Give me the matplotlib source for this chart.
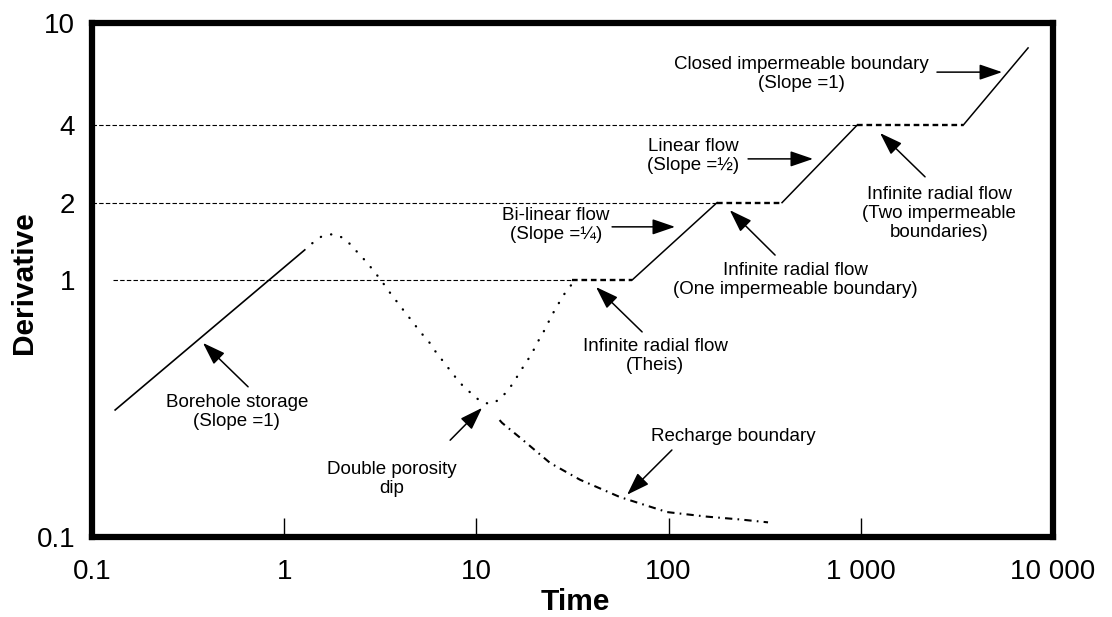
# Type curves for pumping-test derivative analysis (log-log sketch)
import matplotlib.pyplot as plt
from matplotlib.ticker import FixedLocator, NullLocator

plt.rcParams['font.family'] = ['Liberation Sans', 'DejaVu Sans']

# borehole storage (solid)
bh_time = [0.132, 1.28]
bh_deriv = [0.312, 1.31]

# double porosity curve (dotted) - hump, dip and rise to the Theis plateau
dp_time = [1.40, 1.57, 1.80, 2.02, 2.25, 2.45, 2.70, 2.93, 3.19, 3.43, 3.73, 4.05,
           4.41, 4.79, 5.21, 5.67, 6.09, 6.62, 7.20, 7.83, 8.51, 9.48, 10.6, 11.9,
           13.3, 14.6, 15.7, 16.7, 18.1, 19.5, 20.7, 22.2, 23.6, 25.1, 26.9, 28.9, 31.4]
dp_deriv = [1.39, 1.48, 1.51, 1.46, 1.36, 1.26, 1.17, 1.08, 1.00, 0.923, 0.851, 0.785,
            0.724, 0.668, 0.617, 0.574, 0.530, 0.489, 0.451, 0.416, 0.387, 0.360, 0.335, 0.329,
            0.344, 0.373, 0.401, 0.435, 0.476, 0.520, 0.569, 0.622, 0.681, 0.745, 0.815, 0.890, 0.964]

# recharge boundary (dash-dot)
rc_time = [13.2, 13.6, 17.5, 24.2, 34.6, 55.8, 98.1, 158, 235, 329]
rc_deriv = [0.285, 0.278, 0.238, 0.194, 0.167, 0.143, 0.125, 0.120, 0.117, 0.114]

# flat plateaus (infinite radial flow) and sloping segments
plateau_time = [[31.4, 64.6], [178.6, 389], [955, 3404]]
plateau_deriv = [[1, 1], [2, 2], [4, 4]]
slope_time = [[64.6, 178.6], [389, 955], [3404, 7413]]
slope_deriv = [[1, 2], [2, 4], [4, 8.0]]

# horizontal reference levels and where they stop
ref_levels = [1, 2, 4]
ref_start = [0.128, 0.1, 0.1]
ref_end = [31.4, 178.6, 955]

x_ticks = [0.1, 1, 10, 100, 1000, 10000]
x_labels = ['0.1', '1', '10', '100', '1 000', '10 000']
y_ticks = [0.1, 1, 2, 4, 10]
y_labels = ['0.1', '1', '2', '4', '10']

# labels: text, text centre, arrow tail, arrow tip
notes = [
    ("Borehole storage\n(Slope =1)", (0.567, 0.306), (0.649, 0.384), (0.378, 0.569)),
    ("Double porosity\ndip", (3.64, 0.168), (7.30, 0.238), (10.7, 0.318)),
    ("Recharge boundary", (216, 0.245), (104, 0.218), (60.8, 0.146)),
    ("Infinite radial flow\n(Theis)", (84.9, 0.506), (72.8, 0.628), (41.9, 0.939)),
    ("Bi-linear flow\n(Slope =¼)", (25.9, 1.64), (50.8, 1.61), (108, 1.61)),
    ("Linear flow\n(Slope =½)", (134, 3.03), (259, 2.96), (564, 2.96)),
    ("Infinite radial flow\n(One impermeable boundary)", (455, 1.0), (358, 1.25), (208, 1.87)),
    ("Infinite radial flow\n(Two impermeable\nboundaries)", (2553, 1.82), (2158, 2.52), (1259, 3.73)),
    ("Closed impermeable boundary\n(Slope =1)", (489, 6.34), (2489, 6.44), (5431, 6.44)),
]

fig = plt.figure(figsize=(11.12, 6.17), dpi=100)
ax = fig.add_axes([0.0827, 0.1297, 0.8643, 0.833])
ax.set_xscale('log')
ax.set_yscale('log')
ax.set_xlim(0.1, 10000)
ax.set_ylim(0.1, 10)

for lev, x0, x1 in zip(ref_levels, ref_start, ref_end):
    ax.plot([x0, x1], [lev, lev], color='black', lw=0.8, linestyle=(0, (4, 2)))

ax.plot(bh_time, bh_deriv, color='black', lw=1.2)
ax.plot(dp_time, dp_deriv, color='black', lw=1.7, linestyle=(0, (0.1, 4.4)),
        dash_capstyle='round')
ax.plot(rc_time, rc_deriv, color='black', lw=1.5, linestyle=(0, (3.5, 2.5, 0.8, 2.5)))

for t, d in zip(plateau_time, plateau_deriv):
    ax.plot(t, d, color='black', lw=1.7, linestyle=(0, (2.4, 1.6)))
for t, d in zip(slope_time, slope_deriv):
    ax.plot(t, d, color='black', lw=1.1)

for txt, pos, tail, tip in notes:
    ax.text(pos[0], pos[1], txt, ha='center', va='center', fontsize=13.5,
            linespacing=1.15)
    ax.annotate('', xy=tip, xytext=tail,
                arrowprops=dict(arrowstyle='-|>,head_length=0.7,head_width=0.24',
                                mutation_scale=20, lw=1.1, color='black',
                                shrinkA=0, shrinkB=0))

ax.set_xticks(x_ticks)
ax.set_xticklabels(x_labels)
ax.xaxis.set_minor_locator(NullLocator())
ax.set_yticks(y_ticks)
ax.set_yticklabels(y_labels)
ax.yaxis.set_minor_locator(FixedLocator([1]))
ax.tick_params(axis='x', which='major', direction='in', length=14, width=1,
               labelsize=20, pad=16)
ax.tick_params(axis='y', which='major', length=0, labelsize=20, pad=12)
ax.tick_params(axis='y', which='minor', direction='in', length=15, width=1.2,
               labelleft=False)

for sp in ax.spines.values():
    sp.set_linewidth(4.5)

fig.text(24 / 1112, 1 - 283 / 617, "Derivative", rotation=90, ha='center',
         va='center', fontsize=21.5, fontweight='bold')
fig.text(575 / 1112, 1 - 602 / 617, "Time", ha='center', va='center',
         fontsize=21.5, fontweight='bold')

fig.savefig('out.png', dpi=100)
